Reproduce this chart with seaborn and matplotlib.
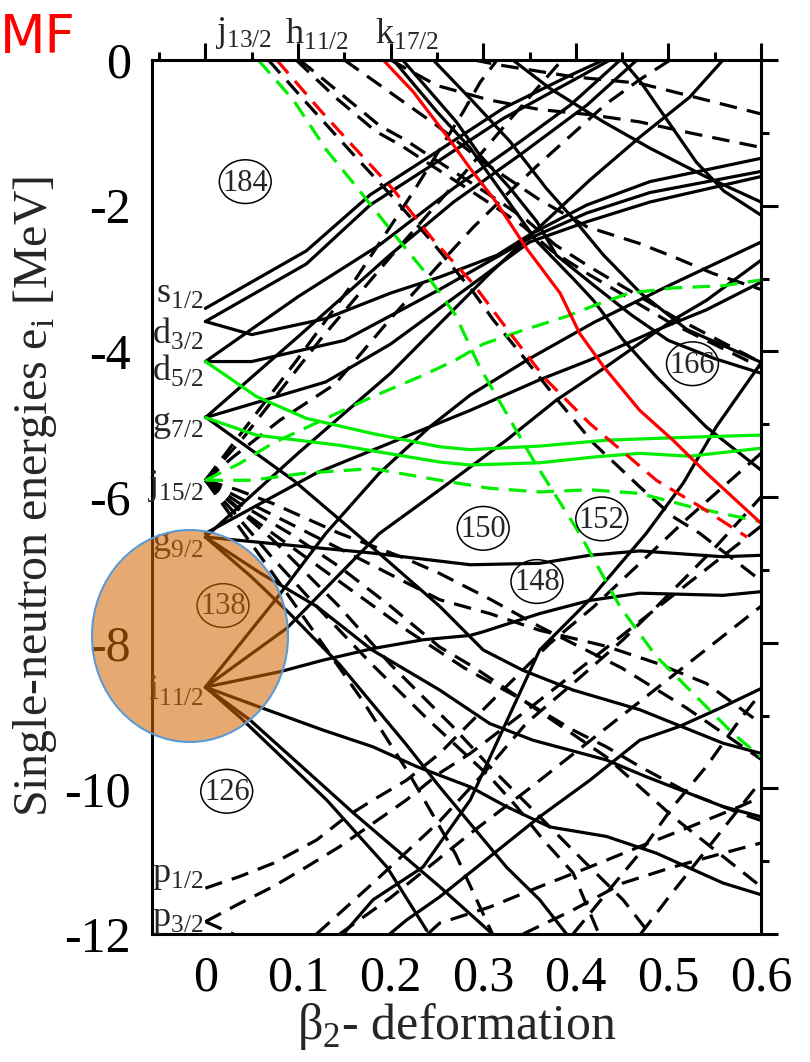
import matplotlib
matplotlib.use('Agg')
import numpy as np
import pandas as pd
import seaborn as sns
import matplotlib.pyplot as plt
from matplotlib.patches import Ellipse

#%% single-neutron levels, (beta list, energy list)
green_solid = [
    ([0, .03, .055, .109, .181, .253, .286, .361, .433, .52, .6],
     [-4.14, -4.4, -4.62, -4.92, -5.13, -5.31, -5.35, -5.3, -5.22, -5.18, -5.15]),
    ([0, .055, .145, .253, .286, .361, .42, .469, .523, .6],
     [-4.91, -5.15, -5.29, -5.52, -5.56, -5.53, -5.45, -5.4, -5.44, -5.33]),
]
green_dashed = [
    ([.057, .095, .131, .163, .203, .235, .27, .296, .354, .404, .448, .487, .527, .57, .6],
     [0, -.55, -1.24, -1.74, -2.38, -2.88, -3.5, -4.21, -5.49, -6.5, -7.51, -8.19, -8.7, -9.25, -9.57]),
    ([0, .037, .073, .127, .181, .235, .27, .3, .343, .39, .422, .458, .505, .559, .6],
     [-5.77, -5.54, -5.26, -4.94, -4.62, -4.33, -4.12, -3.9, -3.71, -3.52, -3.36, -3.2, -3.13, -3.1, -3.02]),
    ([0, .05, .109, .181, .253, .307, .361, .415, .469, .523, .6],
     [-5.77, -5.77, -5.67, -5.61, -5.77, -5.88, -5.93, -5.9, -5.95, -6.13, -6.34]),
]
red_solid = [
    ([.192, .224, .26, .286, .314, .347, .383, .404, .43, .469, .505, .541, .6],
     [0, -.43, -1.03, -1.49, -1.95, -2.59, -3.2, -3.75, -4.21, -4.81, -5.22, -5.67, -6.36]),
]
red_dashed = [
    ([.077, .124, .16, .203, .246, .289, .332, .368, .415, .44, .487, .534, .585],
     [0, -.69, -1.19, -1.78, -2.47, -3.07, -3.8, -4.39, -4.99, -5.26, -5.77, -6.13, -6.55]),
]
black_solid = [
    # s1/2, d3/2
    ([0, .109, .178, .25, .322, .394, .43], [-3.41, -2.62, -1.85, -1.26, -.66, -.21, 0]),
    ([0, .109, .178, .25, .322, .394, .437], [-3.59, -2.8, -1.99, -1.4, -.8, -.3, 0]),
    ([0, .05, .13, .2, .253, .315, .35, .412, .48, .6], [-3.59, -3.77, -3.55, -3.2, -2.98, -2.68, -2.4, -1.99, -1.67, -1.35]),
    # d5/2
    ([0, .1, .188, .268, .34, .394, .448], [-4.14, -3.25, -2.54, -1.76, -1.12, -.62, 0]),
    ([0, .05, .15, .253, .35, .412, .48, .6], [-4.14, -4.14, -3.85, -3.15, -2.45, -2.1, -1.82, -1.53]),
    # g7/2
    ([0, .13, .2, .286, .35, .412, .48, .6], [-4.91, -4.42, -3.9, -3.1, -2.5, -2.22, -1.95, -1.6]),
    ([0, .1, .199, .268, .34, .412, .466], [-4.91, -3.8, -2.68, -1.95, -1.3, -.62, 0]),
    ([0, .095, .181, .253, .3, .343, .397, .469, .559, .6], [-4.9, -5.77, -6.7, -7.5, -8.1, -8.38, -8.65, -8.92, -9.38, -9.52]),
    # g9/2
    ([0, .073, .181, .286, .361, .415, .469, .559, .6], [-6.55, -6.64, -6.77, -6.93, -6.91, -6.8, -6.74, -6.82, -6.8]),
    ([0, .12, .286, .361, .415, .487, .541, .6], [-6.5, -5.67, -4.81, -4.39, -4.12, -3.71, -3.43, -3.05]),
    ([0, .05, .091, .145, .217, .253, .289, .325, .361, .39], [-6.55, -7.1, -7.6, -8.3, -9.4, -9.98, -10.53, -11.08, -11.53, -12]),
    ([0, .06, .12, .18, .253, .307, .354, .433, .476, .559, .6], [-6.55, -7.05, -7.5, -8.1, -8.65, -9.11, -9.34, -9.61, -9.84, -10.25, -10.39]),
    ([0, .1, .2, .253, .307, .361, .415, .469, .523, .559], [-6.55, -5.4, -4.3, -3.62, -2.93, -2.29, -1.65, -1.06, -.51, 0]),
    # i11/2
    ([0, .08, .127, .181, .235, .286, .3, .361, .415, .469, .559, .6],
     [-8.61, -8.4, -8.24, -8.08, -7.96, -7.9, -7.85, -7.6, -7.42, -7.32, -7.35, -7.3]),
    ([0, .062, .127, .181, .228, .286, .325, .372, .433, .487, .559, .6],
     [-8.61, -8.9, -9.2, -9.43, -9.7, -9.98, -10.25, -10.53, -10.66, -10.89, -11.3, -11.46]),
    ([0, .037, .131, .196, .239], [-8.61, -9.02, -10.16, -11.08, -11.95]),
    ([0, .048, .16, .253, .31], [-8.61, -9.06, -10.34, -11.35, -12]),
    ([0, .077, .13, .188, .243, .286, .35, .42, .5, .6], [-8.61, -7.39, -6.5, -5.67, -5.03, -4.6, -4.1, -3.6, -3.1, -2.5]),
    ([0, .088, .188, .253, .325, .379, .433, .469, .505, .541, .6],
     [-8.61, -7.8, -6.5, -5.9, -5.22, -4.67, -4.21, -3.89, -3.57, -3.3, -2.75]),
    # intruders from below
    ([.149, .181, .235, .286, .361, .415, .476, .516, .552, .6], [-12, -11.53, -11.08, -10.16, -8.1, -7.41, -6.5, -5.81, -5.03, -4.16]),
    ([.199, .217, .253, .307, .361, .415, .469, .512, .559, .6], [-12, -11.81, -11.49, -10.94, -10.39, -9.89, -9.34, -9.15, -8.88, -8.63]),
    # k17/2 and friends from above
    ([.203, .25, .286, .322, .358, .397, .419, .451, .487, .541, .6], [0, -.71, -1.21, -1.85, -2.49, -3.0, -3.3, -3.84, -4.35, -5.04, -5.63]),
    ([.213, .271, .296, .329, .358, .379, .42, .46, .5, .55, .6], [0, -.85, -1.3, -1.76, -2.22, -2.68, -3.1, -3.5, -3.85, -4.1, -4.3]),
    ([.246, .286, .329, .368, .4, .43, .47, .52, .6], [0, -.53, -1.12, -1.76, -2.22, -2.68, -3.2, -3.7, -4.15]),
    ([.332, .372, .43, .48, .54, .6], [0, -.39, -.85, -1.21, -1.6, -1.95]),
    ([.45, .47, .5, .53, .56, .6], [0, -.3, -.85, -1.4, -1.8, -2.13]),
]
black_dashed = [
    # j13/2, h11/2 from above
    ([.068, .11, .16, .2, .245, .29, .311, .343, .383, .419, .469, .505, .534, .6],
     [0, -.6, -1.3, -1.85, -2.5, -3.2, -3.57, -4.07, -4.71, -5.26, -5.86, -6.27, -6.5, -7.15]),
    ([.102, .145, .188, .215, .246, .279, .315, .347, .378, .415, .505, .595],
     [0, -.45, -.9, -1.09, -1.35, -1.62, -1.92, -2.2, -2.54, -2.84, -3.52, -4.12]),
    ([.098, .141, .184, .211, .242, .275, .311, .343, .374, .411, .501, .6],
     [0, -.52, -.98, -1.17, -1.43, -1.7, -2.0, -2.28, -2.62, -2.92, -3.6, -4.22]),
    ([.15, .2, .25, .3, .361, .412, .469, .505, .548, .6], [0, -.45, -.9, -1.4, -1.92, -2.29, -2.52, -2.7, -2.93, -3.15]),
    ([.2, .25, .307, .361, .415, .469, .523, .6], [0, -.35, -.55, -.68, -.75, -.85, -1.0, -1.2]),
    ([.29, .318, .397, .469, .541, .6], [0, -.07, -.23, -.32, -.55, -.74]),
    # p1/2, p3/2
    ([0, .037, .073, .12, .152, .181, .217, .253, .314, .372, .419, .47, .52, .6],
     [-11.37, -11.21, -11.03, -10.71, -10.39, -10.16, -9.89, -9.52, -8.74, -8.01, -7.51, -6.9, -6.3, -5.4]),
    ([0, .037, .073, .109, .145, .181, .217, .253, .286, .35, .42, .5, .6],
     [-11.83, -11.58, -11.35, -11.08, -10.8, -10.48, -10.16, -9.79, -9.52, -8.9, -8.2, -7.4, -6.4]),
    ([0, .03, .06], [-11.83, -12.0, -12.2]),
    # j15/2
    ([0, .04, .1, .16, .224, .278, .297, .315], [-5.77, -5.1, -4.1, -3.05, -1.82, -.72, -.3, 0]),
    ([0, .03, .08, .14, .2, .253, .289, .325, .361, .397, .433, .469, .502],
     [-5.77, -5.45, -4.95, -4.45, -3.55, -2.8, -2.3, -1.85, -1.42, -1.01, -.6, -.27, 0]),
    ([0, .04, .124, .2, .286, .33, .385], [-5.77, -5.2, -3.84, -2.7, -1.46, -.8, 0]),
    ([0, .034, .073, .145, .217, .253, .307, .361, .45, .52, .6],
     [-5.77, -5.9, -6.09, -6.5, -6.85, -7.05, -7.4, -7.78, -8.35, -8.9, -9.6]),
    ([0, .05, .12, .19, .253, .307, .361, .433, .487, .541, .6],
     [-5.77, -6.1, -6.55, -7.0, -7.41, -7.6, -7.83, -8.05, -8.28, -8.56, -9.11]),
    ([0, .037, .091, .145, .2, .253, .289, .343, .397, .433, .469, .523, .577, .6],
     [-5.77, -6.09, -6.5, -6.96, -7.5, -8.06, -8.33, -8.79, -9.2, -9.43, -9.7, -10.07, -10.34, -10.44]),
    ([0, .04, .1, .16, .22, .28, .343, .433, .505, .6],
     [-5.77, -6.2, -6.75, -7.3, -7.85, -8.35, -8.79, -9.57, -10.39, -11.35]),
    ([0, .04, .073, .109, .145, .2, .267, .307, .343, .379, .415, .451, .48],
     [-5.77, -6.22, -6.59, -7.05, -7.51, -8.3, -9.15, -9.7, -10.16, -10.62, -11.08, -11.53, -12]),
    ([0, .03, .07, .12, .18, .24, .307, .336, .365, .397, .425],
     [-5.77, -6.2, -6.8, -7.5, -8.3, -9.05, -9.84, -10.25, -10.71, -11.16, -12]),
    ([0, .03, .07, .12, .17, .22, .27, .31], [-5.77, -6.3, -7.0, -7.9, -8.8, -9.8, -10.9, -12]),
    # from below
    ([.12, .181, .253, .3, .347, .397, .451, .487, .55, .6], [-12, -11.3, -10.45, -9.8, -9.1, -8.56, -7.96, -7.51, -6.7, -6.0]),
    ([.24, .253, .307, .361, .415, .469, .523, .577, .6], [-12, -11.85, -11.63, -11.35, -11.08, -10.8, -10.53, -10.25, -10.12]),
    ([.343, .397, .451, .505, .559, .6], [-12, -11.67, -11.3, -11.08, -10.89, -10.75]),
    ([.397, .433, .469, .505, .541, .577, .6], [-12, -11.44, -10.89, -10.25, -9.7, -9.06, -8.69]),
    ([.47, .5, .55, .6], [-12, -11.5, -10.7, -9.9]),
    ([.145, .2, .286, .35, .42, .5, .6], [-12, -11.5, -10.62, -10.0, -9.3, -8.5, -7.5]),
]

# ellipsed gap numbers
gaps = ['184', '166', '150', '152', '148', '138', '126']
gap_b = [.043, .526, .3, .428, .358, .019, .023]
gap_e = [-1.69, -4.19, -6.45, -6.32, -7.18, -7.51, -10.06]

# spherical orbitals at beta = 0
orb_lab = ['s', 'd', 'd', 'g', 'j', 'g', 'i', 'p', 'p']
orb_sub = ['1/2', '3/2', '5/2', '7/2', '15/2', '9/2', '11/2', '1/2', '3/2']
orb_e = [-3.2, -3.75, -4.25, -5.0, -5.85, -6.65, -8.65, -11.2, -11.8]

top_lab = ['j', 'h', 'k']
top_sub = ['13/2', '11/2', '17/2']
top_b = [.0, .076, .173]

#%%
rows = []
lid = 0
for col, ls, lines in [('k', 'solid', black_solid), ('k', 'dashed', black_dashed),
                       ('g', 'solid', green_solid), ('g', 'dashed', green_dashed),
                       ('r', 'solid', red_solid), ('r', 'dashed', red_dashed)]:
    for b, e in lines:
        for bb, ee in zip(b, e):
            rows.append((bb, ee, lid, col, ls))
        lid += 1
df = pd.DataFrame(rows, columns=['beta', 'e', 'line', 'col', 'ls'])

sns.set_theme(style='white')
plt.rcParams['font.family'] = ['Liberation Serif', 'DejaVu Serif']
plt.rcParams['mathtext.fontset'] = 'custom'
plt.rcParams['mathtext.rm'] = 'Liberation Serif'

fig = plt.figure(figsize=(8.1, 10.62), dpi=100)
ax = fig.add_axes([0.1873, 0.1205, 0.7522, 0.823])
sns.lineplot(data=df, x='beta', y='e', units='line', estimator=None, sort=False,
             hue='col', style='ls', palette={'k': 'black', 'g': '#00ee00', 'r': '#ff0000'},
             dashes={'solid': '', 'dashed': (5.5, 3.2)}, linewidth=2.3, legend=False, ax=ax)

ax.set_xlim(-0.058, 0.6)
ax.set_ylim(-12, 0)
ax.set_xticks(np.arange(0, 0.61, 0.1))
ax.set_xticklabels(['0', '0.1', '0.2', '0.3', '0.4', '0.5', '0.6'])
ax.set_xticks(np.arange(-0.05, 0.6, 0.1), minor=True)
ax.set_yticks(np.arange(0, -12.1, -2))
ax.set_yticklabels(['0', '-2', '-4', '-6', '-8', '-10', '-12'])
ax.set_yticks(np.arange(-1, -12, -2), minor=True)
ax.tick_params(which='both', direction='out', top=True, right=True, width=2.2,
               labelsize=36, pad=3, color='black', labelcolor='black')
ax.tick_params(which='major', length=12)
ax.tick_params(which='minor', length=6)
for s in ax.spines.values():
    s.set_linewidth(2.2)
    s.set_color('black')
ax.set_xlabel(r'β$_\mathregular{2}$- deformation', fontsize=36, labelpad=0)
ax.set_ylabel(r'Single-neutron energies e$_\mathregular{i}$ [MeV]', fontsize=34.5, labelpad=4)

for t, b, e in zip(gaps, gap_b, gap_e):
    ax.text(b, e, t, fontsize=22, ha='center', va='center')
    ax.add_patch(Ellipse((b, e + 0.02), 0.056, 0.6, fill=False, ec='black', lw=1.1, zorder=3))
for l, s, e in zip(orb_lab, orb_sub, orb_e):
    ax.text(-0.002, e, l + r'$_\mathregular{' + s + '}$', fontsize=26, ha='right', va='center')
for l, s, b in zip(top_lab, top_sub, top_b):
    ax.text(b + 0.01, 0.12, l + r'$_\mathregular{' + s + '}$', fontsize=26, ha='left', va='bottom',
            clip_on=False)

fig.text(0.0, 1 - 38 / 1062, 'MF', color='red', fontsize=38, family='DejaVu Sans',
         ha='left', va='center')

circ = Ellipse((190 / 810, 1 - 636 / 1062), 196 / 810, 212 / 1062, transform=fig.transFigure,
               facecolor=(210 / 255, 105 / 255, 5 / 255, 0.57), edgecolor='#5B9BD5', lw=1.5, zorder=10)
fig.add_artist(circ)

fig.savefig('out.png', dpi=100)
